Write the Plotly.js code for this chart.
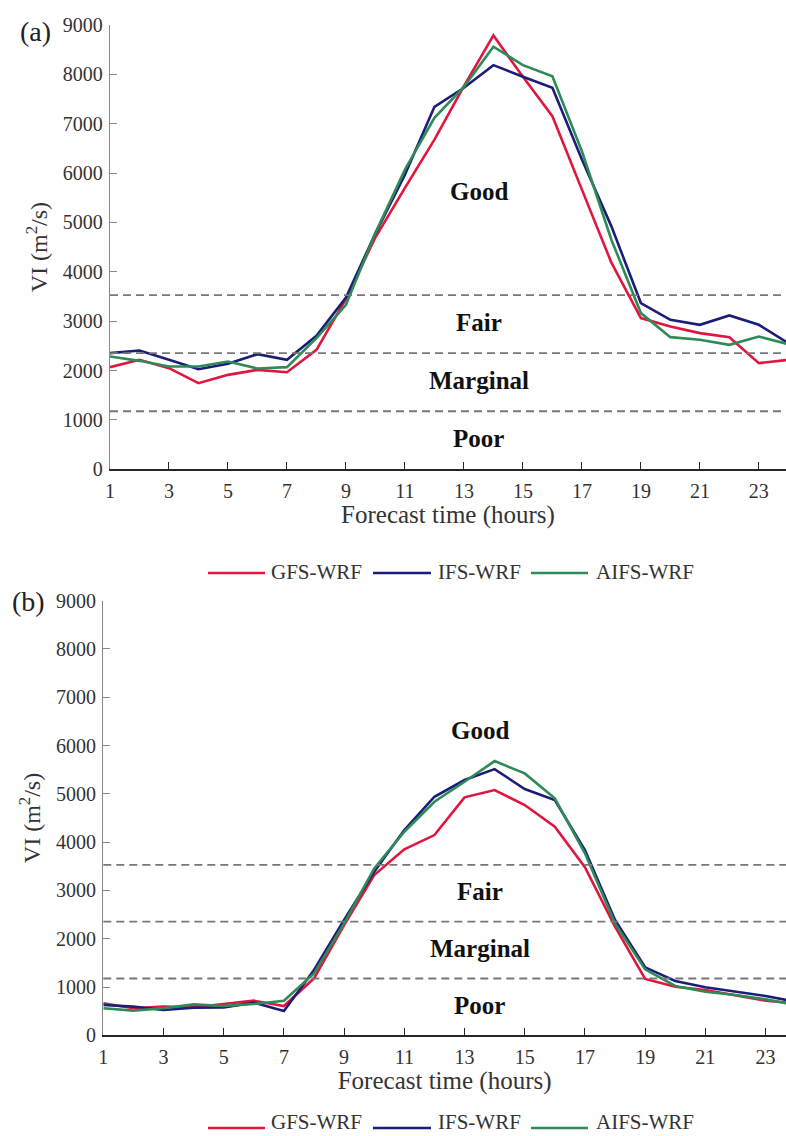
<!DOCTYPE html>
<html>
<head>
<meta charset="utf-8">
<script src="https://cdn.plot.ly/plotly-3.0.1.min.js"></script>
<style>
  html, body { margin: 0; padding: 0; background: #fff; }
  #chart { width: 786px; height: 1136px; }
</style>
</head>
<body>
<div id="chart"></div>
<script>
// Forecast hours
const hours = [1,2,3,4,5,6,7,8,9,10,11,12,13,14,15,16,17,18,19,20,21,22,23,24];

// Panel (a): VI (m^2/s)
const gfsA  = [2069,2217,2049,1744,1913,2014,1967,2420,3450,4700,5700,6677,7760,8789,7950,7152,5665,4185,3063,2893,2759,2677,2150,2217];
const ifsA  = [2353,2406,2217,2028,2136,2332,2217,2704,3480,4780,5970,7343,7728,8187,7951,7728,6274,4921,3367,3028,2927,3116,2927,2555];
const aifsA = [2284,2197,2082,2082,2183,2041,2069,2657,3333,4790,6071,7120,7748,8560,8187,7963,6442,4651,3164,2677,2623,2521,2690,2535];

// Panel (b): VI (m^2/s)
const gfsB  = [662,559,593,580,648,717,607,1180,2283,3319,3851,4147,4928,5079,4768,4319,3480,2249,1166,1007,938,834,717,662];
const ifsB  = [627,593,524,572,579,676,503,1352,2387,3387,4251,4940,5286,5513,5099,4872,3837,2387,1408,1124,994,903,814,696];
const aifsB = [559,510,559,641,607,648,717,1283,2318,3457,4216,4836,5251,5679,5424,4907,3768,2318,1366,1021,903,834,745,627];

// Series names and category thresholds
const seriesNames = ['GFS-WRF', 'IFS-WRF', 'AIFS-WRF'];
const thresholds = [1176, 2352, 3528];
const categories = ['Poor', 'Marginal', 'Fair', 'Good'];
const xTicks = [1,3,5,7,9,11,13,15,17,19,21,23];
const yTicks = [0,1000,2000,3000,4000,5000,6000,7000,8000,9000];

const colors = ['#E0163F', '#1B1D78', '#2E8B57'];
const FONT = 'Liberation Serif, Times New Roman, serif';
const W = 786, H = 1136;

const panels = [
  {series: [gfsA, ifsA, aifsA], xa: 'x', ya: 'y', left: 110, top: 25, bottom: 469.3, xmax: 23.92,
   label: '(a)', labelPos: [35, 31], labelY: [615, 1793, 2970, 5625], legendY: 573, legendTextY: 572},
  {series: [gfsB, ifsB, aifsB], xa: 'x2', ya: 'y2', left: 103.3, top: 600.7, bottom: 1035.3, xmax: 23.68,
   label: '(b)', labelPos: [28, 601], labelY: [627, 1801, 2973, 6306], legendY: 1128, legendTextY: 1122}
];

const traces = [];
const shapes = [];
const annotations = [];
const layout = {
  width: W, height: H,
  margin: {l: 0, r: 0, t: 0, b: 0},
  paper_bgcolor: '#fff', plot_bgcolor: '#fff',
  showlegend: false,
  font: {family: FONT, color: '#333'}
};

// legend entry geometry (line start, line end, text start)
const legendItems = [[208, 265, 270], [373, 431, 437], [531, 588, 595]];

panels.forEach((p, pi) => {
  const sfx = pi === 0 ? '' : '2';
  p.series.forEach((vals, si) => {
    traces.push({
      x: hours, y: vals, type: 'scatter', mode: 'lines',
      name: seriesNames[si], xaxis: p.xa, yaxis: p.ya,
      line: {color: colors[si], width: 2.6},
      showlegend: false
    });
  });

  layout['xaxis' + sfx] = {
    domain: [p.left / W, 1], anchor: p.ya, range: [1, p.xmax],
    tickvals: xTicks, ticks: 'inside', ticklen: 7, tickcolor: '#262626', tickwidth: 1,
    showline: true, linecolor: '#262626', linewidth: 1.2,
    showgrid: false, zeroline: false, automargin: false,
    tickfont: {family: FONT, size: 20, color: '#333'},
    ticklabelstandoff: 3,
    title: {text: 'Forecast time (hours)', font: {family: FONT, size: 25, color: '#333'}, standoff: 5}
  };
  layout['yaxis' + sfx] = {
    domain: [1 - p.bottom / H, 1 - p.top / H], anchor: p.xa, range: [0, 9000],
    tickvals: yTicks, ticks: 'inside', ticklen: 7, tickcolor: '#888', tickwidth: 1,
    showline: true, linecolor: '#888', linewidth: 1.2,
    showgrid: false, zeroline: false, automargin: false,
    tickfont: {family: FONT, size: 20, color: '#333'},
    ticklabelstandoff: 2,
    title: {text: 'VI (m<sup>2</sup>/s)', font: {family: FONT, size: 24, color: '#333'}, standoff: 8}
  };

  // category boundaries
  thresholds.forEach(t => {
    shapes.push({
      type: 'line', xref: p.xa + ' domain', yref: p.ya,
      x0: 0, x1: 1, y0: t, y1: t,
      line: {color: '#777', width: 1.8, dash: '8px,5px'}
    });
  });

  // category names
  categories.forEach((c, ci) => {
    annotations.push({
      text: '<b>' + c + '</b>', xref: p.xa, yref: p.ya, x: 13.5, y: p.labelY[ci],
      showarrow: false, xanchor: 'center', yanchor: 'middle',
      font: {family: FONT, size: 25, color: '#111'}
    });
  });

  // panel letter
  annotations.push({
    text: p.label, xref: 'paper', yref: 'paper',
    x: p.labelPos[0] / W, y: 1 - p.labelPos[1] / H,
    showarrow: false, xanchor: 'center', yanchor: 'middle',
    font: {family: FONT, size: 28, color: '#222'}
  });

  // legend row
  legendItems.forEach((it, si) => {
    shapes.push({
      type: 'line', xref: 'paper', yref: 'paper',
      x0: it[0] / W, x1: it[1] / W, y0: 1 - p.legendY / H, y1: 1 - p.legendY / H,
      line: {color: colors[si], width: 2.6}
    });
    annotations.push({
      text: seriesNames[si], xref: 'paper', yref: 'paper',
      x: it[2] / W, y: 1 - p.legendTextY / H,
      showarrow: false, xanchor: 'left', yanchor: 'middle', borderpad: 0,
      font: {family: FONT, size: 21, color: '#333'}
    });
  });
});

layout.shapes = shapes;
layout.annotations = annotations;

Plotly.newPlot('chart', traces, layout, {staticPlot: true, displayModeBar: false});
</script>
</body>
</html>
